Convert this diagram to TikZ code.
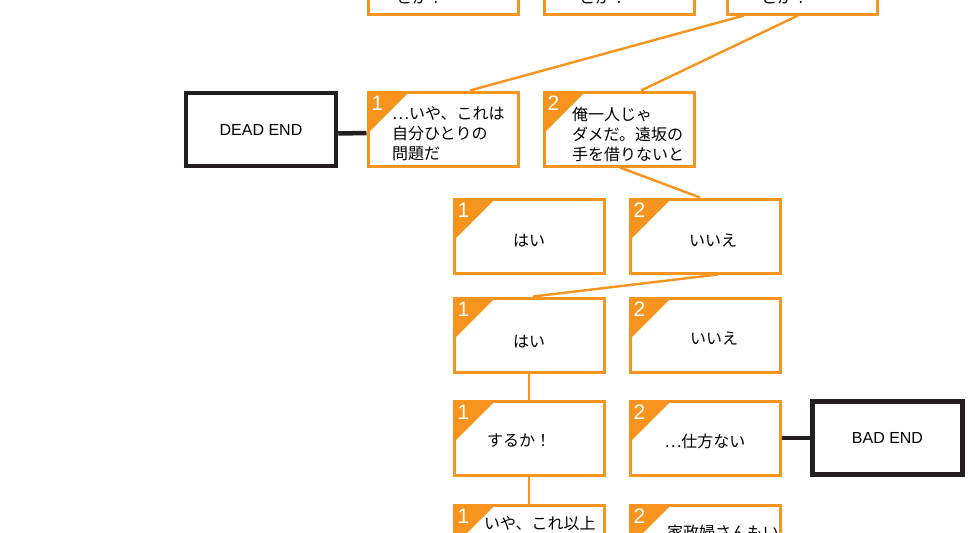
\documentclass[tikz,border=0pt]{standalone}
\usepackage{fontspec}
\setmainfont{Noto Sans CJK JP}
\newfontfamily\numfont{Liberation Sans}
\usepackage{tikz}

\definecolor{flowOrange}{HTML}{F7941D}
\definecolor{flowBlack}{HTML}{231F20}

\tikzset{
  choice/.style={draw=flowOrange, line width=3pt, fill=white, minimum width=150pt,
    minimum height=74pt, inner sep=0pt,
    path picture={\fill[flowOrange] (path picture bounding box.north west) -- ++(41pt,0pt) -- ++(-41pt,-41pt) -- cycle;}},
  endbox/.style={draw=flowBlack, line width=4.5pt, fill=white, minimum width=150pt,
    minimum height=73pt, inner sep=0pt, font=\numfont\fontsize{16}{18}\selectfont},
  num/.style={anchor=north west, inner sep=0pt, text=white, font=\numfont\fontsize{21}{21}\selectfont},
  txt/.style={inner sep=0pt, align=left, font=\fontsize{16}{20}\selectfont},
  link/.style={draw=flowOrange, line width=2.4pt},
  deadlink/.style={draw=flowBlack, line width=4.5pt}
}

\begin{document}
\begin{tikzpicture}[x=1pt,y=-1pt]
  \useasboundingbox (0,0) rectangle (975,533);
  \clip (0,0) rectangle (975,533);

  % top row
  \node[choice] (t1) at (443,-23) {};
  \node[choice] (t2) at (619,-23) {};
  \node[choice] (t3) at (802,-23) {};
  \node[txt,anchor=west] (t1x) at (396,-3) {とか？};
  \node[txt,anchor=west] (t2x) at (579,-3) {とか！};
  \node[txt,anchor=west] (t3x) at (761,-3) {とか？};

  % second row
  \node[endbox] (dead) at (261,129.5) {DEAD END};
  \node[choice] (r2a) at (443,129) {};
  \node[choice] (r2b) at (619,129) {};
  \node[num] (r2an) at ([shift={(5pt,-5pt)}]r2a.north west) {1};
  \node[num] (r2bn) at ([shift={(5pt,-5pt)}]r2b.north west) {2};
  \node[txt,anchor=west] (r2ax) at (392,134) {…いや、これは\\自分ひとりの\\問題だ};
  \node[txt,anchor=west] (r2bx) at (572,134) {俺一人じゃ\\ダメだ。遠坂の\\手を借りないと};

  % third row
  \node[choice] (r3a) at (529,236) {};
  \node[choice] (r3b) at (705,236) {};
  \node[num] (r3an) at ([shift={(5pt,-5pt)}]r3a.north west) {1};
  \node[num] (r3bn) at ([shift={(5pt,-5pt)}]r3b.north west) {2};
  \node[txt] (r3ax) at ([yshift=-5pt]r3a.center) {はい};
  \node[txt] (r3bx) at ([shift={(8pt,-5pt)}]r3b.center) {いいえ};

  % fourth row
  \node[choice] (r4a) at (529,335) {};
  \node[choice] (r4b) at (705,335) {};
  \node[num] (r4an) at ([shift={(5pt,-5pt)}]r4a.north west) {1};
  \node[num] (r4bn) at ([shift={(5pt,-5pt)}]r4b.north west) {2};
  \node[txt] (r4ax) at ([yshift=-7pt]r4a.center) {はい};
  \node[txt] (r4bx) at ([shift={(9pt,-4pt)}]r4b.center) {いいえ};

  % fifth row
  \node[choice] (r5a) at (529,438) {};
  \node[choice] (r5b) at (705,438) {};
  \node[endbox] (bad) at (887.5,438) {BAD END};
  \node[num] (r5an) at ([shift={(5pt,-5pt)}]r5a.north west) {1};
  \node[num] (r5bn) at ([shift={(5pt,-5pt)}]r5b.north west) {2};
  \node[txt] (r5ax) at ([shift={(-10pt,-3pt)}]r5a.center) {するか！};
  \node[txt] (r5bx) at (705,441) {…仕方ない};

  % sixth row
  \node[choice] (r6a) at (529,542) {};
  \node[choice] (r6b) at (705,542) {};
  \node[num] (r6an) at ([shift={(5pt,-5pt)}]r6a.north west) {1};
  \node[num] (r6bn) at ([shift={(5pt,-5pt)}]r6b.north west) {2};
  \node[txt,anchor=west] (r6ax) at (484,524) {いや、これ以上};
  \node[txt,anchor=west] (r6bx) at (667,532) {家政婦さんもい};

  % connectors
  \draw[link] ([xshift=-58pt]t3.south) -- ([xshift=27pt]r2a.north);
  \draw[link] ([xshift=-4pt]t3.south) -- ([xshift=22pt]r2b.north);
  \draw[link] ([xshift=1pt]r2b.south) -- ([xshift=-5pt]r3b.north);
  \draw[link] ([xshift=13pt]r3b.south) -- ([xshift=4pt]r4a.north);
  \draw[link] (r4a.south) -- (r5a.north);
  \draw[link] (r5a.south) -- (r6a.north);
  \draw[deadlink] ([yshift=-4pt]dead.east) -- ([yshift=-4pt]r2a.west);
  \draw[deadlink] (r5b.east) -- (bad.west);
\end{tikzpicture}
\end{document}
